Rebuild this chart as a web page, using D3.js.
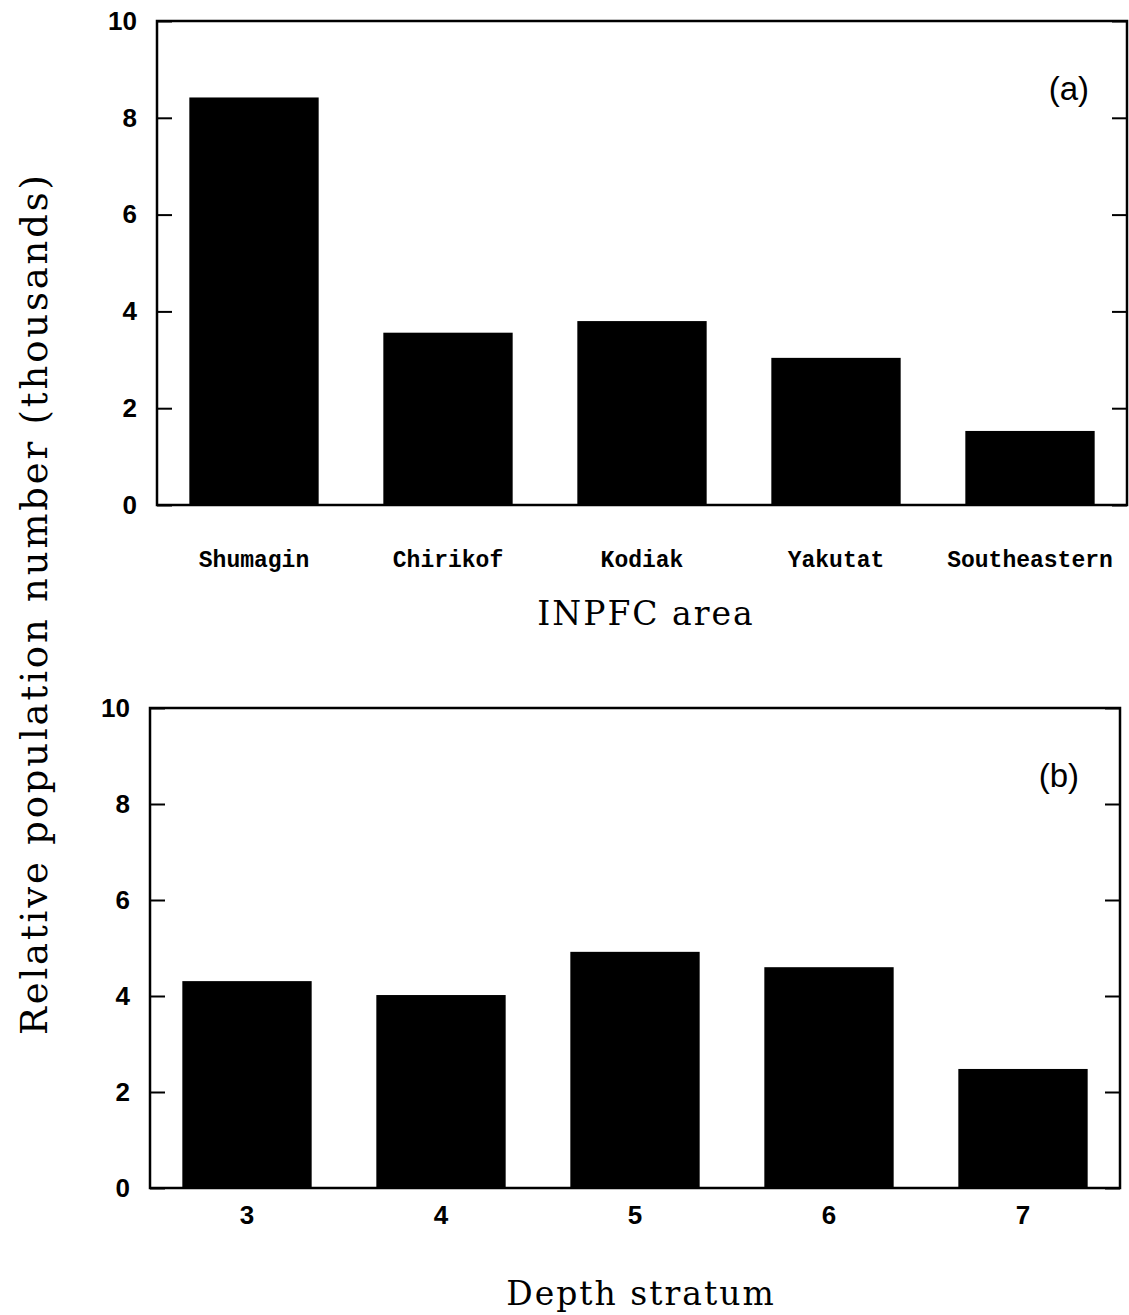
<!DOCTYPE html>
<html>
<head>
<meta charset="utf-8">
<script src="https://cdn.jsdelivr.net/npm/d3@7"></script>
<style>
  body { margin: 0; background: #fff; }
  svg { display: block; }
  .tick line { stroke: #000; stroke-width: 2; }
</style>
</head>
<body>
<svg width="1129" height="1315"></svg>
<script>
// panel (a): by INPFC area
var areas = ["Shumagin", "Chirikof", "Kodiak", "Yakutat", "Southeastern"];
var areaValues = [8.42, 3.56, 3.80, 3.04, 1.53];

// panel (b): by depth stratum
var strata = ["3", "4", "5", "6", "7"];
var strataValues = [4.31, 4.02, 4.92, 4.60, 2.48];

var yTicks = [0, 2, 4, 6, 8, 10];

var svg = d3.select("svg");

var sansFont = "'Liberation Sans', Arial, sans-serif",
    serifFont = "'DejaVu Serif', 'Liberation Serif', serif",
    monoFont = "'Liberation Mono', 'DejaVu Sans Mono', monospace";

function drawPanel(cfg) {
  var x = d3.scaleBand()
      .domain(cfg.cats)
      .range([cfg.x0, cfg.x1])
      .paddingInner(1 / 3)
      .paddingOuter(1 / 6);

  var y = d3.scaleLinear()
      .domain([0, 10])
      .range([cfg.y1, cfg.y0]);

  var g = svg.append("g");

  // bars
  g.selectAll(".bar")
    .data(cfg.values)
    .enter().append("rect")
      .attr("class", "bar")
      .attr("x", function(d, i) { return x(cfg.cats[i]); })
      .attr("width", x.bandwidth())
      .attr("y", function(d) { return y(d); })
      .attr("height", function(d) { return y(0) - y(d); })
      .attr("fill", "#000");

  // left axis, ticks pointing inward
  var left = g.append("g")
      .attr("transform", "translate(" + cfg.x0 + ",0)")
      .call(d3.axisLeft(y).tickValues(yTicks).tickSize(-15).tickPadding(20));
  left.select(".domain").remove();
  left.attr("font-size", null);
  left.selectAll("text")
      .style("font-family", sansFont)
      .style("font-size", "26px")
      .style("font-weight", "bold")
      .attr("fill", "#000");

  // right axis, ticks only
  var right = g.append("g")
      .attr("transform", "translate(" + cfg.x1 + ",0)")
      .call(d3.axisRight(y).tickValues(yTicks).tickSize(-15).tickFormat(""));
  right.select(".domain").remove();

  // category labels
  var bottom = g.append("g")
      .attr("transform", "translate(0," + cfg.y1 + ")")
      .call(d3.axisBottom(x).tickSize(0).tickPadding(cfg.labelPad));
  bottom.select(".domain").remove();
  bottom.selectAll("text")
      .style("font-family", cfg.labelFont)
      .style("font-weight", "bold")
      .style("font-size", cfg.labelSize + "px")
      .attr("fill", "#000");

  // frame
  g.append("rect")
      .attr("x", cfg.x0)
      .attr("y", cfg.y0)
      .attr("width", cfg.x1 - cfg.x0)
      .attr("height", cfg.y1 - cfg.y0)
      .attr("fill", "none")
      .attr("stroke", "#000")
      .attr("stroke-width", 2.5);

  // panel tag
  g.append("text")
      .attr("x", cfg.tagX)
      .attr("y", cfg.tagY)
      .attr("font-family", sansFont)
      .attr("font-size", 33)
      .attr("text-anchor", "end")
      .text(cfg.tag);

  // x title
  g.append("text")
      .attr("x", cfg.titleX)
      .attr("y", cfg.titleY)
      .attr("font-family", serifFont)
      .attr("font-size", 33)
      .attr("text-anchor", "middle")
      .attr("letter-spacing", 2)
      .text(cfg.title);
}

drawPanel({
  cats: areas, values: areaValues,
  x0: 157, x1: 1127, y0: 21, y1: 505,
  labelFont: monoFont, labelSize: 23, labelPad: 46,
  tag: "(a)", tagX: 1089, tagY: 100,
  title: "INPFC area", titleX: 646, titleY: 625
});

drawPanel({
  cats: strata, values: strataValues,
  x0: 150, x1: 1120, y0: 708, y1: 1188,
  labelFont: sansFont, labelSize: 26, labelPad: 18,
  tag: "(b)", tagX: 1079, tagY: 787,
  title: "Depth stratum", titleX: 641, titleY: 1305
});

// shared y title
svg.append("text")
    .attr("transform", "translate(47,605) rotate(-90)")
    .attr("font-family", serifFont)
    .attr("font-size", 37)
    .attr("text-anchor", "middle")
    .attr("textLength", 860)
    .attr("lengthAdjust", "spacing")
    .text("Relative population number (thousands)");
</script>
</body>
</html>
